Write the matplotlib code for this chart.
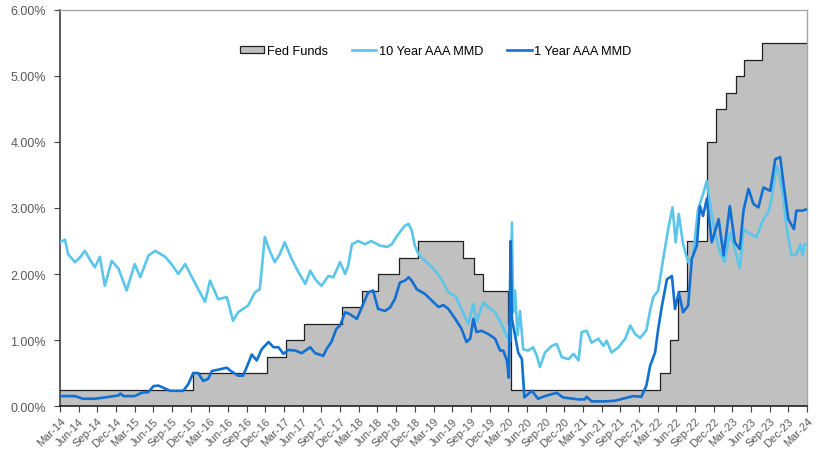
import matplotlib
matplotlib.use("Agg")
import matplotlib.pyplot as plt
from matplotlib.patches import Patch
from matplotlib.lines import Line2D
import numpy as np
import pandas as pd

plt.rcParams['font.family'] = ['Liberation Sans', 'DejaVu Sans']

# x positions are months after Mar-14
quarter_labels = list(pd.date_range("2014-03-01", "2024-03-01", freq="3MS").strftime("%b-%y"))

# Fed Funds target (upper bound) - change points
fed_m = [0, 21.3, 33.25, 36.3, 39.2, 45.3, 48.5, 51.1, 54.5, 57.5, 64.7, 66.5, 68.0,
         72.0, 72.4, 96.4, 98.0, 99.3, 100.8, 104.0, 105.4, 107.0, 108.6, 109.9, 112.8, 120]
fed_rate = [0.25, 0.50, 0.75, 1.00, 1.25, 1.50, 1.75, 2.00, 2.25, 2.50, 2.25, 2.00, 1.75,
            1.25, 0.25, 0.50, 1.00, 1.75, 2.50, 4.00, 4.50, 4.75, 5.00, 5.25, 5.50, 5.50]

# 10 Year AAA MMD
ten_m = [0, 0.8, 1.3, 2.4, 3.2, 4.0, 4.8, 5.6, 6.4, 7.2, 8.3, 9.4, 10.7, 12.0, 12.9, 14.2,
         15.3, 16.9, 17.9, 19.0, 20.1, 21.2, 22.2, 23.3, 24.1, 25.4, 26.8, 27.8, 28.6, 30.2,
         31.3, 32.1, 32.9, 33.7, 34.5, 35.3, 36.1, 37.2, 38.3, 39.4, 40.2, 41.0, 42.0, 43.1,
         43.9, 45.0, 45.8, 46.3, 46.9, 47.9, 49.0, 50.0, 51.4, 52.5, 53.3, 54.3, 55.4, 56.0,
         56.5, 57.0, 57.6, 58.6, 60.0, 61.3, 62.4, 63.5, 64.5, 65.6, 66.4, 66.9, 68.0, 68.8,
         69.9, 71.0, 71.8, 72.3, 72.6, 72.8, 73.1, 73.5, 73.9, 74.4, 75.2, 76.0, 76.6, 77.1,
         77.9, 79.0, 79.8, 80.6, 81.7, 82.5, 83.3, 83.8, 84.6, 85.4, 86.5, 87.3, 87.8, 88.6,
         89.7, 90.8, 91.6, 92.4, 93.2, 94.2, 94.8, 95.3, 96.1, 96.9, 97.7, 98.4, 98.9, 99.4,
         100.1, 100.9, 101.7, 102.5, 103.3, 103.9, 104.4, 105.2, 106.0, 106.8, 107.6, 108.4,
         109.2, 109.8, 110.8, 111.9, 113.0, 113.8, 114.3, 115.1, 115.7, 116.2, 116.7, 117.5,
         118.3, 118.9, 119.3, 119.6, 120.0]
ten_v = [2.48, 2.52, 2.30, 2.18, 2.25, 2.35, 2.22, 2.10, 2.26, 1.82, 2.20, 2.08, 1.75, 2.15,
         1.95, 2.28, 2.35, 2.26, 2.15, 2.00, 2.15, 1.95, 1.77, 1.58, 1.90, 1.62, 1.65, 1.29,
         1.42, 1.52, 1.72, 1.77, 2.56, 2.35, 2.18, 2.30, 2.48, 2.23, 2.03, 1.85, 2.05, 1.92,
         1.82, 1.97, 1.95, 2.18, 2.00, 2.13, 2.45, 2.50, 2.45, 2.50, 2.43, 2.41, 2.45, 2.60,
         2.73, 2.76, 2.66, 2.43, 2.30, 2.20, 2.08, 1.92, 1.72, 1.67, 1.47, 1.24, 1.55, 1.27,
         1.57, 1.50, 1.42, 1.22, 1.06, 0.97, 2.78, 1.42, 1.75, 1.07, 1.44, 0.86, 0.84, 0.89,
         0.76, 0.59, 0.81, 0.91, 0.94, 0.74, 0.71, 0.79, 0.69, 1.12, 1.14, 0.96, 1.02, 0.91,
         0.99, 0.81, 0.89, 1.02, 1.22, 1.09, 1.03, 1.15, 1.45, 1.65, 1.75, 2.23, 2.68, 3.01,
         2.48, 2.91, 2.45, 2.18, 2.28, 2.98, 3.21, 3.41, 3.08, 2.63, 2.33, 2.18, 2.63, 2.38,
         2.08, 2.68, 2.61, 2.56, 2.83, 2.93, 3.14, 3.64, 3.44, 3.14, 2.73, 2.28, 2.30, 2.45,
         2.28, 2.45, 2.45]

# 1 Year AAA MMD
one_m = [0, 2.4, 3.7, 5.6, 7.2, 9.4, 9.7, 10.2, 12.0, 13.1, 14.2, 15.0, 15.8, 17.7, 19.8,
         20.6, 21.4, 22.2, 23.0, 23.8, 24.4, 25.4, 26.8, 27.3, 28.6, 29.4, 30.0, 30.8, 31.6,
         32.4, 33.5, 34.3, 35.1, 35.9, 36.7, 37.8, 38.8, 40.2, 41.0, 42.3, 42.8, 43.6, 44.4,
         45.0, 45.8, 46.6, 47.7, 48.5, 49.5, 50.3, 51.1, 52.2, 53.0, 53.8, 54.6, 55.4, 56.0,
         56.5, 57.3, 58.6, 59.7, 60.8, 61.6, 62.4, 63.5, 64.5, 65.3, 65.9, 66.4, 66.9, 67.7,
         68.8, 69.9, 70.7, 71.2, 71.8, 72.1, 72.4, 72.6, 73.1, 73.6, 74.2, 74.6, 75.8, 76.8,
         77.9, 79.8, 80.8, 83.3, 84.3, 84.6, 85.4, 87.6, 89.2, 90.8, 92.1, 93.4, 94.2, 94.8,
         95.6, 96.1, 96.7, 97.5, 98.3, 98.8, 99.4, 100.1, 100.9, 101.5, 102.3, 102.8, 103.3,
         103.9, 104.7, 105.8, 106.6, 107.6, 108.4, 109.2, 109.8, 110.6, 111.4, 112.2, 113.0,
         114.1, 114.9, 115.7, 116.2, 117.0, 117.9, 118.3, 119.2, 120.0]
one_v = [0.15, 0.15, 0.11, 0.11, 0.13, 0.16, 0.19, 0.15, 0.15, 0.20, 0.21, 0.30, 0.31, 0.23,
         0.23, 0.33, 0.50, 0.50, 0.38, 0.41, 0.53, 0.55, 0.58, 0.54, 0.46, 0.46, 0.59, 0.78,
         0.69, 0.86, 0.97, 0.89, 0.89, 0.79, 0.85, 0.84, 0.80, 0.89, 0.80, 0.76, 0.86, 0.97,
         1.17, 1.22, 1.42, 1.39, 1.32, 1.50, 1.72, 1.75, 1.47, 1.44, 1.49, 1.62, 1.87, 1.90,
         1.95, 1.90, 1.77, 1.70, 1.60, 1.50, 1.53, 1.47, 1.32, 1.17, 0.97, 1.02, 1.32, 1.12,
         1.14, 1.09, 1.02, 0.84, 0.84, 0.69, 0.43, 2.50, 1.32, 1.07, 0.81, 0.71, 0.13, 0.23,
         0.11, 0.15, 0.20, 0.13, 0.10, 0.10, 0.14, 0.07, 0.07, 0.08, 0.12, 0.15, 0.14, 0.31,
         0.61, 0.81, 1.17, 1.52, 1.92, 1.97, 1.47, 1.72, 1.42, 1.52, 2.23, 2.43, 3.03, 2.88,
         3.14, 2.48, 2.83, 2.28, 3.03, 2.48, 2.38, 2.96, 3.29, 3.06, 3.01, 3.31, 3.26, 3.74,
         3.77, 3.39, 2.83, 2.68, 2.96, 2.96, 2.98]

fed_color = "#C0C0C0"
ten_color = "#5BC6EA"
one_color = "#1170D2"

fig = plt.figure(figsize=(8.18, 4.56), dpi=100)
ax = fig.add_axes([60 / 818, 1 - 407 / 456, 747 / 818, 396 / 456])

ax.fill_between(fed_m, 0, fed_rate, step="post", color=fed_color, lw=0, zorder=1)
ax.step(fed_m, fed_rate, where="post", color="#202020", lw=0.9, zorder=2)
ax.plot(ten_m, ten_v, color=ten_color, lw=1.9, zorder=3)
ax.plot(one_m, one_v, color=one_color, lw=1.9, zorder=4)

ax.set_xlim(0, 120)
ax.set_ylim(0, 6)
ax.set_yticks(np.arange(0, 7))
ax.set_yticklabels(["{:.2f}%".format(v) for v in range(7)], fontsize=9, color="#595959")
ax.set_xticks(np.arange(0, 121, 3))
ax.set_xticklabels(quarter_labels, rotation=45, ha="right", rotation_mode="anchor",
                   fontsize=8, color="#595959")
ax.tick_params(axis="both", direction="out", length=4, width=0.8, color="#404040")
ax.tick_params(axis="x", pad=3)
ax.tick_params(axis="y", pad=6)

ax.spines['left'].set_color("#404040")
ax.spines['left'].set_linewidth(1.2)
ax.spines['bottom'].set_color("#202020")
ax.spines['bottom'].set_linewidth(1.2)
ax.spines['top'].set_color("#A6A6A6")
ax.spines['right'].set_color("#A6A6A6")
ax.spines['top'].set_linewidth(1.0)
ax.spines['right'].set_linewidth(1.0)

handles = [Patch(facecolor=fed_color, edgecolor="#202020", lw=0.9),
           Line2D([], [], color=ten_color, lw=1.9),
           Line2D([], [], color=one_color, lw=1.9)]
ax.legend(handles, ["Fed Funds", "10 Year AAA MMD", "1 Year AAA MMD"], ncol=3,
          loc="center", bbox_to_anchor=(0.503, 0.897), frameon=False, fontsize=9.2,
          handlelength=1.9, handleheight=0.5, handletextpad=0.2, columnspacing=1.9)

fig.savefig("out.png", dpi=100)
